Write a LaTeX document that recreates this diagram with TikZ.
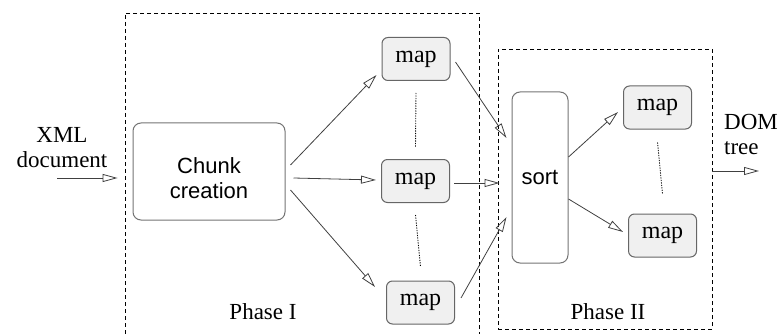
\documentclass[tikz,border=0pt]{standalone}
\usepackage{fontspec}
\setmainfont{Liberation Serif}
\setsansfont{Liberation Sans}
\usetikzlibrary{arrows.meta,calc}
\begin{document}
\begin{tikzpicture}[x=1pt,y=-1pt,
  phase/.style={draw=black,dash pattern=on 4pt off 3pt,line width=0.9pt,inner sep=0pt},
  chunkbox/.style={draw=black!55,rounded corners=8pt,line width=1pt,inner sep=0pt,font=\sffamily\fontsize{22}{25}\selectfont,align=center},
  mapbox/.style={draw=black!60,fill=black!6,rounded corners=6pt,line width=1pt,inner sep=0pt,minimum width=68pt,minimum height=43pt,font=\fontsize{24}{26}\selectfont},
  lbl/.style={font=\fontsize{23}{25}\selectfont,inner sep=0pt,align=center},
  arr/.style={draw=black!75,line width=0.8pt,-{Triangle[open,length=15pt,width=8pt]}},
  dots/.style={draw=black,line width=0.9pt,dash pattern=on 1.2pt off 1.3pt}]
\useasboundingbox (0,0) rectangle (781,334);
% phase boxes
\node[phase,minimum width=354pt,minimum height=326pt] (p1) at (302,176) {};
\node[phase,minimum width=214pt,minimum height=280pt] (p2) at (605,189) {};
% nodes
\node[chunkbox,minimum width=152pt,minimum height=97pt,
  label={[name=chunktext,font=\sffamily\fontsize{22}{25}\selectfont,align=center,inner sep=0pt,yshift=-7pt]center:Chunk\\creation}] (chunk) at (209,171.5) {};
\node[mapbox] (m1) at (416,59) {map};
\node[mapbox] (m2) at (415.5,181) {map};
\node[mapbox] (m3) at (420.5,302.5) {map};
\node[chunkbox,minimum width=56pt,minimum height=171pt] (sort) at (540,177.5) {sort};
\node[mapbox] (m4) at (657.5,107.5) {map};
\node[mapbox] (m5) at (662.5,235.5) {map};
% labels
\node[lbl] (xml) at (62,148) {XML\\document};
\node[lbl,align=left] (dom) at (751,134) {DOM\\tree};
\node[lbl] (ph1) at (263,312) {Phase I};
\node[lbl] (ph2) at (608,312) {Phase II};
% dotted lines
\draw[dots] ($(m1.south)+(0,12)$) -- ($(m2.north)+(0,-12)$);
\draw[dots] ($(m2.south)+(0,12)$) -- ($(m3.north)+(0,-14)$);
\draw[dots] ($(m4.south)+(0,13)$) -- ($(m5.north)+(0,-20)$);
% connectors
\coordinate (xin) at (57,178);
\coordinate (xout) at (759,171);
\draw[arr] (xin) -- ($(p1.west)+(-7,2)$);
\draw[arr] ($(chunk.east)+(5,-6.5)$) -- ($(m1.south west)+(-5,-6)$);
\draw[arr] ($(chunk.east)+(8,6.5)$) -- ($(m2.west)+(-5,-1)$);
\draw[arr] ($(chunk.east)+(5,18.5)$) -- ($(m3.west)+(-11,-15.5)$);
\draw[arr] ($(m1.east)+(5,3)$) -- ($(sort.west)+(-5,-39.5)$);
\draw[arr] ($(m2.east)+(4,2)$) -- ($(sort.west)+(-12,5.5)$);
\draw[arr] ($(m3.east)+(6,-4.5)$) -- ($(sort.west)+(-5,39.5)$);
\draw[arr] ($(sort.east)+(0,-20.5)$) -- ($(m4.west)+(-5,4.5)$);
\draw[arr] ($(sort.east)+(0,21.5)$) -- ($(m5.west)+(-5,-3.5)$);
\draw[arr] ($(p2.east)+(0,-18)$) -- (xout);
\end{tikzpicture}
\end{document}
